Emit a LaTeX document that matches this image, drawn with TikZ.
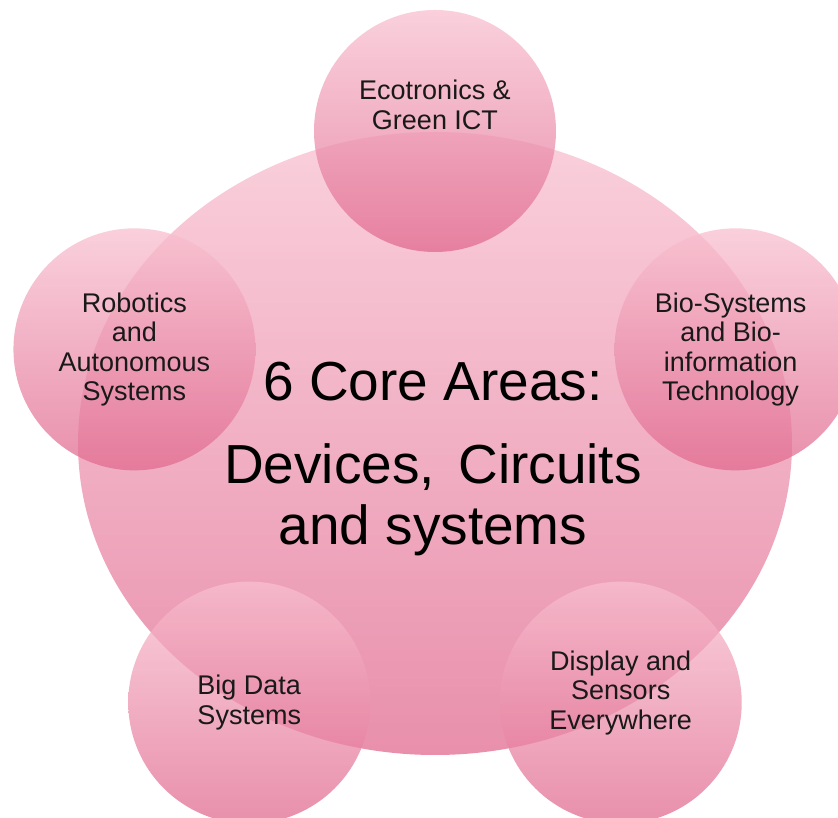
\documentclass[tikz,border=0pt]{standalone}
\usepackage{fontspec}
\setmainfont{Liberation Sans}
\usetikzlibrary{shapes.geometric}
\definecolor{petallight}{RGB}{248,192,208}
\definecolor{petaldark}{RGB}{225,106,144}
\tikzset{
  petal/.style={circle, minimum size=242pt, inner sep=0pt, draw=none,
    top color=petallight, bottom color=petaldark, fill opacity=0.75},
  hub/.style={petal, ellipse, minimum width=714pt, minimum height=623pt},
  petaltext/.style={align=center, text=black!90, inner sep=0pt,
    font=\fontsize{27}{29.5}\selectfont},
  coretext/.style={anchor=base, inner sep=0pt, font=\fontsize{55}{60}\selectfont}
}
\begin{document}
\begin{tikzpicture}
                \useasboundingbox (-435pt,-371pt) rectangle (403pt,447pt);
                \node[hub] (core) at (0pt,3.5pt) {};
                \foreach \x/\n in {90/eco,18/bio,306/disp,234/data,162/robo}{
                        \node[petal] (\n) at (\x:316pt) {};
                    }
                \node[petaltext] (ecolabel) at ([yshift=26pt]eco.center) {Ecotronics \&\\Green ICT};
                \node[petaltext] (biolabel) at ([xshift=-5pt]bio.center) {Bio-Systems\\and Bio-\\information\\Technology};
                \node[petaltext] (displabel) at ([yshift=10pt]disp.center) {Display and\\Sensors\\Everywhere};
                \node[petaltext] (datalabel) at (data.center) {Big Data\\Systems};
                \node[petaltext] (robolabel) at (robo.center) {Robotics\\and\\Autonomous\\Systems};
                \node[coretext] (coreline1) at (-2pt,46pt) {6 Core Areas:};
                \node[coretext] (coreline2) at (-2pt,-37pt) {Devices,\hspace{0.15em} Circuits};
                \node[coretext] (coreline3) at (-2pt,-98pt) {and systems};
            \end{tikzpicture}
\end{document}
